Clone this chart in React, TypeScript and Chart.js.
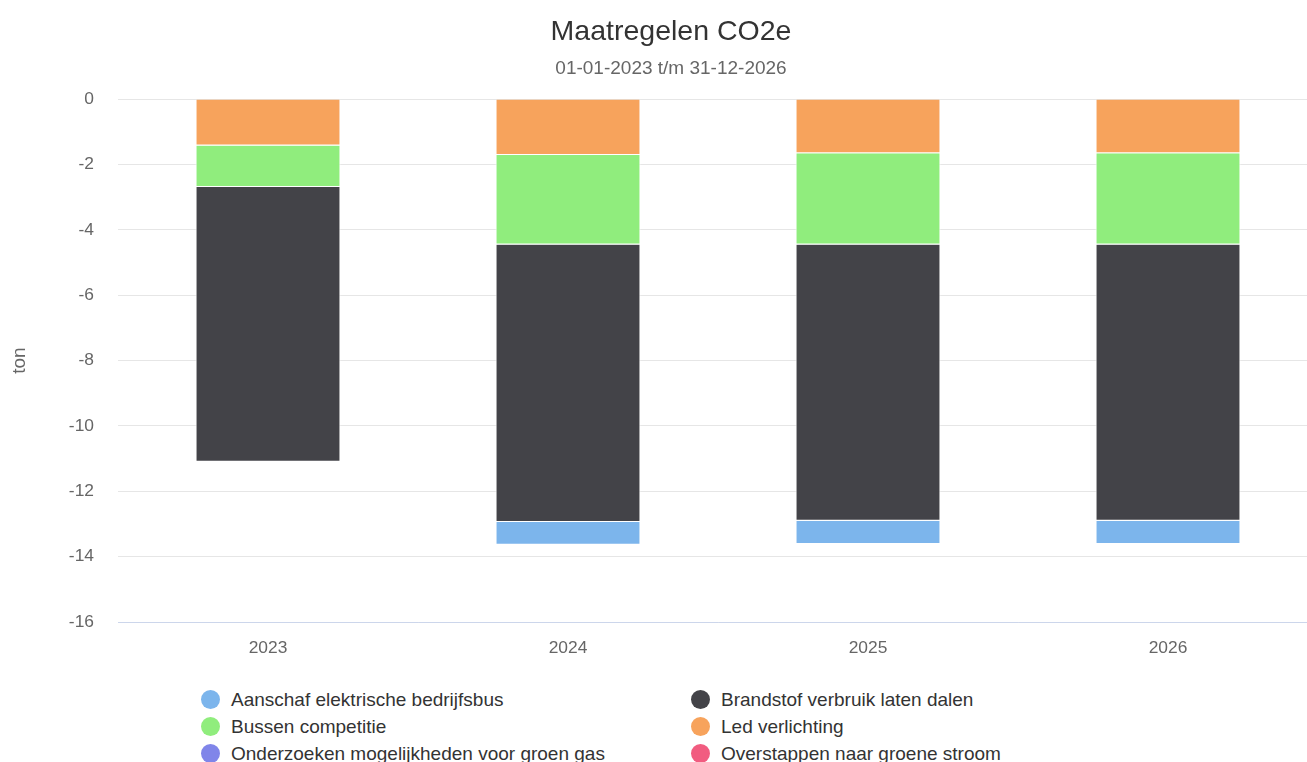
import React, { useEffect, useRef } from "react";
import { Chart, registerables } from "chart.js";

Chart.register(...registerables);

// ---- Data ----
const categories = ["2023", "2024", "2025", "2026"];
const aanschafElektrischeBedrijfsbus = [0, -0.7, -0.71, -0.71];
const brandstofVerbruikLatenDalen = [-8.41, -8.49, -8.45, -8.45];
const bussenCompetitie = [-1.27, -2.74, -2.79, -2.79];
const ledVerlichting = [-1.42, -1.71, -1.66, -1.66];
const onderzoekenGroenGas = [0, 0, 0, 0];
const overstappenGroeneStroom = [0, 0, 0, 0];

const seriesNames = [
  "Aanschaf elektrische bedrijfsbus",
  "Brandstof verbruik laten dalen",
  "Bussen competitie",
  "Led verlichting",
  "Onderzoeken mogelijkheden voor groen gas",
  "Overstappen naar groene stroom",
];
const seriesValues = [
  aanschafElektrischeBedrijfsbus,
  brandstofVerbruikLatenDalen,
  bussenCompetitie,
  ledVerlichting,
  onderzoekenGroenGas,
  overstappenGroeneStroom,
];
const seriesColors = ["#7cb5ec", "#434348", "#90ed7d", "#f7a35c", "#8085e9", "#f15c80"];
// stacking order from zero outwards
const stackOrder = [3, 2, 1, 0, 4, 5];

const titleText = "Maatregelen CO2e";
const subtitleText = "01-01-2023 t/m 31-12-2026";
const yAxisTitle = "ton";
const yMin = -16;
const yMax = 0;
const yStep = 2;

const FONT = "'Liberation Sans', Arial, Helvetica, sans-serif";

const W = 1326;
const H = 680;

export default function App() {
  const canvasRef = useRef<HTMLCanvasElement | null>(null);

  useEffect(() => {
    if (!canvasRef.current) return;
    const datasets = stackOrder.map((i) => ({
      label: seriesNames[i],
      data: seriesValues[i],
      backgroundColor: seriesColors[i],
      borderColor: "#ffffff",
      borderWidth: 1,
      categoryPercentage: 1,
      barPercentage: 0.483,
      stack: "s",
    }));
    const chart = new Chart(canvasRef.current, {
      type: "bar",
      data: { labels: categories, datasets },
      options: {
        animation: false,
        responsive: true,
        maintainAspectRatio: false,
        layout: { padding: { left: 16, right: 16, top: 0, bottom: 0 } },
        plugins: {
          legend: { display: false },
          tooltip: { enabled: false },
          title: {
            display: true,
            text: titleText,
            color: "#333333",
            font: { family: FONT, size: 28.5, weight: "normal" },
            padding: { top: 7, bottom: 0 },
          },
          subtitle: {
            display: true,
            text: subtitleText,
            color: "#666666",
            font: { family: FONT, size: 19, weight: "normal" },
            padding: { top: 8.5, bottom: 18.6 },
          },
        },
        scales: {
          x: {
            stacked: true,
            grid: { display: false, drawTicks: false },
            border: { display: true, color: "#ccd6eb", width: 1 },
            ticks: {
              color: "#666666",
              font: { family: FONT, size: 17.4 },
              padding: 16,
            },
            afterFit: (scale: any) => {
              scale.height = 66;
            },
          },
          y: {
            stacked: true,
            min: yMin,
            max: yMax,
            grid: { color: "#e6e6e6", lineWidth: 1, drawTicks: false },
            border: { display: false },
            ticks: {
              stepSize: yStep,
              color: "#666666",
              font: { family: FONT, size: 17.4 },
              padding: 24,
            },
            title: {
              display: true,
              text: yAxisTitle,
              color: "#666666",
              font: { family: FONT, size: 19, weight: "normal" },
              padding: { top: -16, bottom: 0 },
            },
            afterFit: (scale: any) => {
              scale.width = 94;
            },
          },
        },
      },
    });
    return () => chart.destroy();
  }, []);

  return (
    <div
      style={{
        position: "fixed",
        left: 0,
        top: 0,
        width: "100vw",
        height: "100vh",
        overflow: "hidden",
        background: "#ffffff",
      }}
    >
      <div style={{ position: "absolute", left: 8, top: 8, width: W }}>
        <div style={{ position: "relative", width: W, height: H }}>
          <canvas ref={canvasRef} />
        </div>
        <div
          style={{
            marginTop: -2,
            paddingLeft: 192.5,
            display: "grid",
            gridTemplateColumns: "490px 490px",
            fontFamily: FONT,
            fontSize: 19,
            color: "#333333",
          }}
        >
          {seriesNames.map((name, i) => (
            <div
              key={name}
              style={{ display: "flex", alignItems: "center", height: 27, whiteSpace: "nowrap" }}
            >
              <span
                style={{
                  display: "inline-block",
                  width: 19,
                  height: 19,
                  borderRadius: "50%",
                  background: seriesColors[i],
                  marginRight: 11.5,
                  flex: "0 0 auto",
                }}
              />
              <span>{name}</span>
            </div>
          ))}
        </div>
      </div>
    </div>
  );
}
